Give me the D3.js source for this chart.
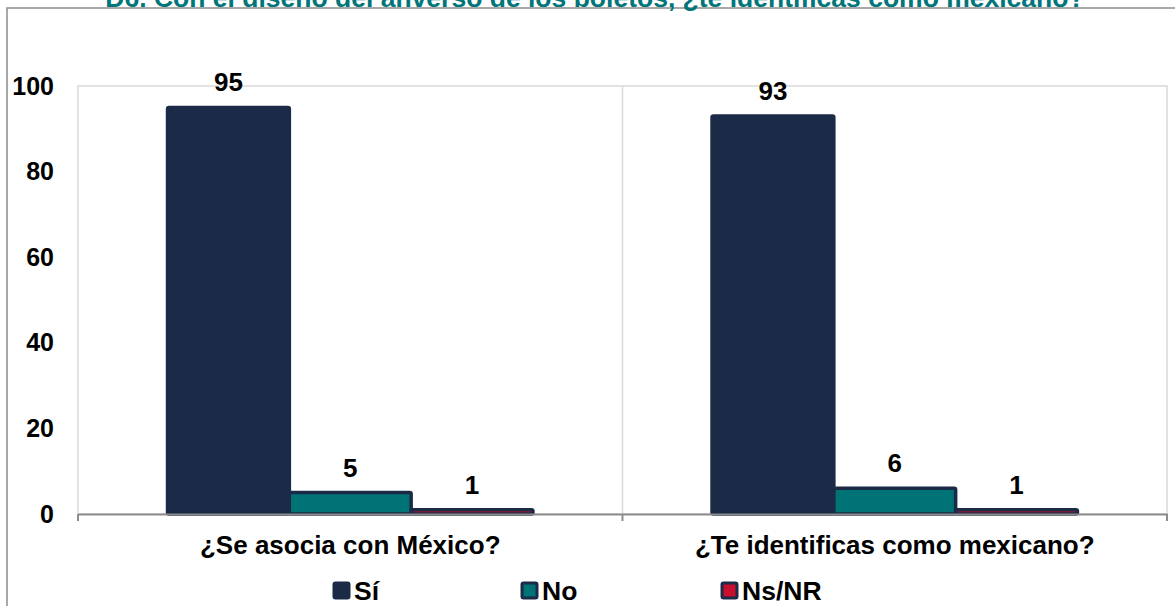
<!DOCTYPE html>
<html><head><meta charset="utf-8">
<script src="https://cdn.jsdelivr.net/npm/d3@7"></script>
<style>body{margin:0;background:#fff}svg{display:block;font-family:"Liberation Sans",Arial,sans-serif}</style>
</head><body><svg id="c" width="1175" height="606"></svg>
<script>
const title = "D6. Con el diseño del anverso de los boletos, ¿te identificas como mexicano?";
const categories = ["¿Se asocia con México?", "¿Te identificas como mexicano?"];
const seriesNames = ["Sí", "No", "Ns/NR"];
const siValues = [95, 93];
const noValues = [5, 6];
const nsValues = [1, 1];
const yTicks = [0, 20, 40, 60, 80, 100];
const colors = ["#1b2a47", "#007377", "#c8102e"];
const stroke = "#1b2a47";

const svg = d3.select("#c");
const M = {l: 78, r: 1167, t: 86, b: 514};
const x0 = d3.scaleBand().domain(categories).range([M.l, M.r]).paddingInner(0).paddingOuter(0);
const x1 = d3.scaleBand().domain(seriesNames).range([0, x0.bandwidth()]).paddingOuter(0.735).paddingInner(0);
const y = d3.scaleLinear().domain([0, 100]).range([M.b, M.t]);

// outer border
svg.append("rect").attr("x", 7).attr("y", 8).attr("width", 1175).attr("height", 620)
  .attr("fill", "none").attr("stroke", "#8c8c8c").attr("stroke-width", 1.5);

// title
svg.append("text").attr("x", 595).attr("y", 7).attr("text-anchor", "middle")
  .attr("font-size", 26.5).attr("font-weight", "bold").attr("fill", "#00757a").text(title);

// plot area border / gridlines
svg.append("rect").attr("x", M.l).attr("y", y(100)).attr("width", M.r - M.l).attr("height", y(0) - y(100))
  .attr("fill", "none").attr("stroke", "#d9d9d9").attr("stroke-width", 1.5);
svg.append("line").attr("x1", x0(categories[1])).attr("x2", x0(categories[1]))
  .attr("y1", y(100)).attr("y2", y(0)).attr("stroke", "#d9d9d9").attr("stroke-width", 1.5);

// y axis labels
const yAxis = d3.axisLeft(y).tickValues(yTicks).tickSize(0).tickPadding(24);
const gy = svg.append("g").attr("transform", `translate(${M.l},0)`).call(yAxis);
gy.select(".domain").remove();
gy.selectAll("text").attr("font-size", 25).attr("font-weight", "bold").attr("fill", "#000")
  .attr("font-family", '"Liberation Sans",Arial,sans-serif');

// bars
const data = categories.map((c, i) => ({c, vals: [siValues[i], noValues[i], nsValues[i]]}));
const g = svg.append("g");
data.forEach(d => {
  d.vals.forEach((v, j) => {
    const s = seriesNames[j];
    const bx = x0(d.c) + x1(s);
    g.append("rect").attr("x", bx).attr("y", y(v)).attr("width", x1.bandwidth())
      .attr("height", y(0) - y(v)).attr("rx", 1.5)
      .attr("fill", colors[j]).attr("stroke", stroke).attr("stroke-width", 3.5);
    g.append("text").attr("x", bx + x1.bandwidth() / 2).attr("y", y(v) - 16)
      .attr("text-anchor", "middle").attr("font-size", 26).attr("font-weight", "bold")
      .attr("fill", "#000").text(v);
  });
});

// x axis
const xAxis = d3.axisBottom(x0).tickSize(0).tickPadding(22);
const gx = svg.append("g").attr("transform", `translate(0,${y(0)})`).call(xAxis);
gx.select(".domain").attr("stroke", "#8c8c8c").attr("stroke-width", 2);
gx.selectAll("text").attr("font-size", 26).attr("font-weight", "bold").attr("fill", "#000")
  .attr("font-family", '"Liberation Sans",Arial,sans-serif');
[M.l, x0(categories[1]), M.r].forEach(px => {
  svg.append("line").attr("x1", px).attr("x2", px).attr("y1", y(0)).attr("y2", y(0) + 7)
    .attr("stroke", "#8c8c8c").attr("stroke-width", 2);
});

// legend
const legX = [333, 521, 721];
const lg = svg.append("g");
seriesNames.forEach((s, j) => {
  lg.append("rect").attr("x", legX[j] + 1).attr("y", 583).attr("width", 15).attr("height", 15)
    .attr("rx", 1.5).attr("fill", colors[j]).attr("stroke", stroke).attr("stroke-width", 3);
  lg.append("text").attr("x", legX[j] + 21).attr("y", 600).attr("font-size", 26.5)
    .attr("font-weight", "bold").attr("fill", "#000").text(s);
});
</script></body></html>
